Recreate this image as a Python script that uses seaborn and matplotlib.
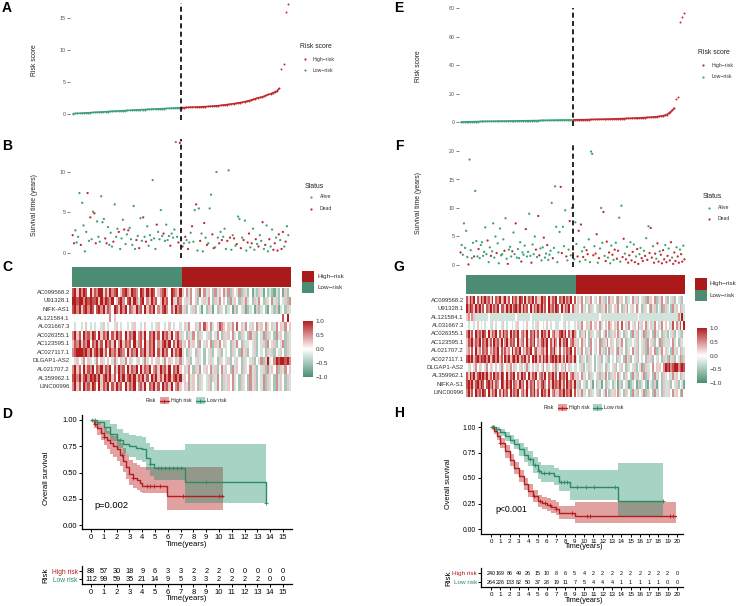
import numpy as np
import pandas as pd
import matplotlib
matplotlib.use("Agg")
import matplotlib.pyplot as plt
import seaborn as sns
from matplotlib.colors import LinearSegmentedColormap, ListedColormap
from matplotlib.patches import Rectangle

# ======================= DATA =======================
# ---- Panel A: training cohort sorted risk scores ----
a_low_scores = [0.05,0.08,0.10,0.12,0.14,0.16,0.18,0.20,0.22,0.24,
                0.26,0.28,0.30,0.32,0.34,0.36,0.38,0.40,0.42,0.44,
                0.46,0.48,0.50,0.52,0.54,0.56,0.58,0.60,0.62,0.63,
                0.65,0.67,0.69,0.70,0.72,0.74,0.75,0.77,0.79,0.80,
                0.82,0.84,0.85,0.87,0.89,0.90,0.92,0.94,0.96,0.98]
a_high_scores = [1.00,1.01,1.03,1.04,1.06,1.07,1.08,1.09,1.10,1.12,
                 1.14,1.16,1.18,1.20,1.22,1.25,1.28,1.31,1.35,1.39,
                 1.43,1.48,1.52,1.57,1.62,1.67,1.73,1.79,1.85,1.92,
                 2.00,2.08,2.18,2.28,2.40,2.52,2.58,2.65,2.78,2.92,
                 3.05,3.15,3.30,3.45,3.62,4.00]
a_high_tail = [7.0, 7.8, 15.9, 17.2]

# ---- Panel E: validation cohort sorted risk scores ----
e_low_scores = [0.10,0.14,0.18,0.22,0.26,0.30,0.33,0.36,0.39,0.42,
                0.45,0.48,0.51,0.54,0.57,0.60,0.62,0.64,0.66,0.68,
                0.70,0.72,0.74,0.76,0.78,0.80,0.82,0.84,0.86,0.88,
                0.90,0.92,0.94,0.96,0.98,1.00,1.02,1.04,1.06,1.08,
                1.10,1.12,1.14,1.17,1.20,1.23,1.26,1.29,1.32,1.35,
                1.38,1.40,1.42,1.44,1.46,1.48,1.50,1.53,1.56,1.60]
e_high_scores = [1.60,1.62,1.65,1.68,1.70,1.73,1.76,1.79,1.82,1.85,
                 1.88,1.91,1.94,1.97,2.00,2.04,2.08,2.12,2.16,2.20,
                 2.24,2.28,2.32,2.37,2.42,2.47,2.52,2.57,2.62,2.68,
                 2.74,2.80,2.86,2.93,3.00,3.07,3.15,3.23,3.31,3.40,
                 3.50,3.60,3.72,3.85,4.00,4.20,4.45,4.80,5.30,6.10,
                 7.20,8.50,9.80]
e_high_tail = [16.2, 17.3, 70.1, 73.5, 76.4]

# ---- Panel B: survival time (years) and status (A = Alive, D = Dead) ----
b_low_time = [2.2,1.2,2.8,1.3,2.0,7.4,1.0,6.2,3.4,0.2,
              2.6,7.4,1.5,4.4,1.7,5.1,4.9,1.2,3.9,2.0,
              1.4,7.0,3.8,4.2,1.8,1.2,3.2,1.0,2.5,0.8,
              1.4,6.0,2.0,3.0,2.6,0.5,1.8,4.1,2.9,1.1,
              2.3,2.8,3.1,1.7,1.0,5.8,0.5,1.6,2.1,0.6,
              4.3,1.5,4.4,2.0,1.4,3.3,0.9,2.2,1.6,9.0,
              1.8,0.5,3.5,2.6,1.7,5.3,2.1,2.4,1.5,3.5,
              1.6,2.1,0.9,2.4,1.9,2.9,13.7,2.0,1.3,13.6]
b_low_status = ("DDAAAADAAA" "ADADAADDAA" "AAAADDAAAA" "DAAADAAADA"
                "ADAAAAADAD" "AADADAAAAA" "AADAAAADAA" "AADAAAAADD")
b_high_time = [1.8,0.8,1.2,2.0,1.6,0.5,1.3,2.5,3.3,1.4,
               5.3,6.0,0.3,5.5,1.5,2.4,0.2,3.7,1.9,1.0,
               1.2,5.5,7.2,2.3,0.6,0.7,10.0,1.9,1.2,2.6,
               1.6,2.0,3.0,0.5,1.5,10.2,1.9,0.4,2.2,1.8,
               0.9,1.1,4.5,4.2,0.6,1.9,1.6,4.0,0.3,1.3,
               2.4,0.7,1.2,3.0,0.4,1.7,1.1,0.8,2.2,1.5,
               3.8,0.5,1.0,3.4,0.2,1.7,0.8,2.9,0.4,1.2,
               1.9,0.3,2.3,1.6,0.5,2.6,0.8,1.4,3.3,2.2]
b_high_status = ("ADADADAADA" "ADAADAADAD" "AAADDAAADA" "DAAADADAAD"
                 "ADAADADAAD" "DADAADADAA" "DADAADAADD" "ADDADDADAA")

# ---- Panel F ----
f_low_time = [2.2,3.5,1.8,7.3,3.0,6.0,1.4,0.1,18.5,2.6,
              1.2,3.9,1.5,13.0,4.2,1.5,2.8,1.2,3.5,4.0,
              1.6,2.3,6.6,1.9,4.3,0.5,3.1,1.6,2.4,7.3,
              1.3,5.0,2.1,3.8,0.3,6.4,1.7,1.9,4.5,2.5,
              8.2,1.1,0.2,2.7,3.2,1.5,2.4,5.7,1.9,7.3,
              1.3,2.8,1.2,4.0,0.6,2.2,1.8,3.4,6.3,1.5,
              2.3,9.0,1.6,0.4,3.6,1.9,5.0,2.7,1.4,8.6,
              1.7,2.9,0.8,3.1,4.8,1.3,2.0,3.5,0.9,1.8,
              2.5,10.9,1.2,3.0,13.8,6.7,0.5,2.2,5.8,13.7,
              2.1,6.7,3.3,9.6,1.5,0.8,2.7,7.7,1.7,10.0]
f_low_status = ("DAAAAAADAA" "AADAAADAAA" "AAAADAADAA" "AADAAAAAAD" "AADAAADAAD"
                "AAAADAAADA" "AAADAAADAD" "DAAADAADAA" "AADAAAAAAD" "DAAADAADAA")
f_high_time = [2.1,1.0,7.5,3.7,1.5,6.0,0.6,7.1,2.4,1.4,
               3.1,0.9,2.6,1.9,4.5,0.5,19.9,19.5,1.7,3.3,
               2.0,5.4,0.4,1.2,2.9,10.0,3.9,9.3,1.6,0.7,
               4.1,1.3,2.2,0.3,3.4,1.8,0.9,2.7,3.9,1.1,
               2.5,8.3,0.6,10.4,1.4,4.6,2.0,1.0,3.2,0.4,
               1.7,4.0,0.8,2.3,3.6,0.5,1.5,2.8,0.2,1.9,
               3.0,1.2,0.7,2.5,1.6,4.7,0.9,6.8,2.1,6.5,
               1.3,3.3,0.4,2.0,1.1,3.8,0.6,2.4,1.8,0.3,
               2.6,1.0,3.5,0.5,1.6,2.9,0.8,4.0,1.3,0.2,
               2.2,0.7,3.1,1.5,0.4,2.7,1.9,0.6,3.4,1.0]
f_high_status = ("DAAADDADAD" "AADDAAAADA" "DDADAAADAD" "DADAADADAD" "DAAADDADAD"
                 "DADDADADDA" "ADDADADADD" "DADDADDADD" "DDADDADDAD" "DDADDADDAD")

# ---- Panels C / G: heatmap expression (digit 0..8 -> -1..1) ----
c_genes = ["AC099568.2","U91328.1","NIFK-AS1","AL121584.1","AL031667.3","AC026355.1",
           "AC123595.1","AC027117.1","DLGAP1-AS2","AL021707.2","AL359962.1","LINC00996"]
c_rows = [
 "7858687485 7688375867 8457865876 4875868745 6785487658 5463645274 6354263546 3625436253 2413253142 3213241524",
 "8878868787 7858687684 5786478586 3784658674 5867485376 4353645243 5364253645 4263542536 3425364253 4635243526",
 "7868578687 4786857648 7586847658 6748576846 5786475867 3524352431 4253142534 2341524351 2341523421 4325134253",
 "4444444444 4444444645 4444444444 4444444444 4444444444 4444444444 4444444444 4444444444 4444444444 4444447484",
 "4344345434 3443543443 5434434354 4345443435 4434543443 4536445364 7546345765 4536474536 4354635463 4536453645",
 "6857486758 7485768475 8674857684 6758476857 4867584675 3425364253 4352436425 3546342534 2635243625 3426354253",
 "5768576847 6857486758 4685767485 6748576846 5786847586 3546354264 3546253645 3425364253 3435243526 4352436253",
 "6788878685 7868574867 5876485768 4768576847 5867485768 3425342534 2435243524 3425342635 2435243425 3524354253",
 "4354364534 3645345436 3453645343 5436345435 4364534536 3435243534 2435342534 3524354253 4352436258 3468788786",
 "6857485768 4768576847 5867485768 4857684675 8675847685 4536425364 3546352463 5426354253 4635243526 3546253645",
 "7868578687 8685786857 4868578685 7685748685 7586857868 3546354253 4352536425 3546342534 2635243625 3426354253",
 "6857486758 7485768475 8674857684 6758476857 4867584675 4536354253 4352436425 3546342534 2635243625 3426354253",
]
g_genes = ["AC099568.2","U91328.1","AL121584.1","AL031667.3","AC026355.1","AC123595.1",
           "AL021707.2","AC027117.1","DLGAP1-AS2","AL359962.1","NIFKA-S1","LINC00996"]
g_rows = [
 "7586847586 8675847685 6857486758 7485768475 5867485768 4768576847 4536425364 3546352463 5426354253 4635243526 3546253645 2435243524",
 "8687586857 4768576847 7586857868 5867485768 6857486758 7485768475 3546354253 4352536425 4536425364 3546342534 2635243625 3426354253",
 "5646533333 3343333333 3333333433 3333343333 3333333333 3343333333 3333333333 3334333333 3333333333 3333433333 3333333333 3333336383",
 "4344345434 3443543443 5434434354 4345443435 4434543443 3443543443 4536445364 5546345465 4536474536 4354635463 4536453645 4537463748",
 "6857486758 7485768475 8674857684 6758476857 4867584675 5786847586 3425364253 4352436425 3546342534 2635243625 3426354253 2435243524",
 "5768576847 6857486758 4685767485 6748576846 5786847586 4857684675 3546354264 3546253645 3425364253 3435243526 4352436253 3546342534",
 "5647485647 6746576847 5756485768 4657684675 5675847685 4746576847 4536425364 3546352463 5426354253 4635243526 3546253645 3426354253",
 "7868578687 8685786857 4868578685 7685748685 7586857868 6857486758 3425342534 2435243524 3425342635 2435243425 3524354253 2635243625",
 "4354364534 3645345436 3453645343 5436345435 4364534536 3453645343 3435243534 2435342534 3524354253 4352436253 3464535468 7867886787",
 "7586857868 6857486758 7485768475 8674857684 6758476857 4867584675 3546354253 4352536425 3546342534 2635243625 3426354253 4536354253",
 "7868578687 4786857648 7586847658 6748576846 5786475867 6857486758 3524352431 4253142534 2341524351 2341523421 4325134253 3524352431",
 "6857486758 7485768475 8674857684 6758476857 4867584675 5768576847 4536354253 4352436425 3546342534 2635243625 3426354253 3546354264",
]

# ---- Panel D: Kaplan-Meier (training) ----
d_high_t  = [0, 0.25, 0.5, 0.75, 1.0, 1.25, 1.5, 1.75, 2.0, 2.25, 2.5, 2.75, 3.0, 3.3, 3.6, 3.8, 4.0, 5.95, 10.3]
d_high_s  = [1.0, 0.96, 0.92, 0.88, 0.84, 0.81, 0.78, 0.75, 0.72, 0.67, 0.61, 0.55, 0.49, 0.45, 0.43, 0.40, 0.375, 0.276, 0.276]
d_high_up = [1.0, 1.0, 0.98, 0.95, 0.92, 0.90, 0.87, 0.85, 0.82, 0.78, 0.73, 0.68, 0.62, 0.59, 0.57, 0.555, 0.555, 0.555, 0.555]
d_high_lo = [1.0, 0.92, 0.86, 0.81, 0.76, 0.72, 0.68, 0.65, 0.61, 0.56, 0.50, 0.44, 0.38, 0.35, 0.33, 0.31, 0.30, 0.14, 0.14]
d_high_cens = [0.3, 1.0, 2.4, 3.3, 4.4, 4.6, 4.9, 5.4, 7.2, 10.0, 10.2]
d_low_t  = [0, 0.5, 1.0, 1.5, 2.0, 2.5, 3.0, 3.5, 4.0, 4.3, 4.6, 4.9, 7.35, 13.65, 13.7]
d_low_s  = [1.0, 0.98, 0.93, 0.87, 0.81, 0.77, 0.75, 0.73, 0.72, 0.64, 0.58, 0.54, 0.405, 0.21, 0.21]
d_low_up = [1.0, 1.0, 1.0, 0.96, 0.91, 0.88, 0.86, 0.85, 0.84, 0.78, 0.74, 0.71, 0.77, 0.92, 0.92]
d_low_lo = [1.0, 0.95, 0.87, 0.80, 0.73, 0.68, 0.65, 0.62, 0.60, 0.52, 0.47, 0.43, 0.21, 0.04, 0.04]
d_low_cens = [0.1, 0.3, 0.5, 2.3, 4.6, 5.2, 5.5, 5.8, 6.1, 6.4, 6.7, 7.0, 9.0, 13.66]
d_years = list(range(0, 16))
d_n_high = [88, 57, 30, 18, 9, 6, 3, 3, 2, 2, 2, 0, 0, 0, 0, 0]
d_n_low  = [112, 99, 59, 35, 21, 14, 9, 5, 3, 3, 2, 2, 2, 2, 0, 0]

# ---- Panel H: Kaplan-Meier (validation) ----
h_high_t  = [0, 0.3, 0.6, 1.0, 1.5, 2.0, 2.5, 3.0, 3.5, 4.0, 4.5, 5.0, 5.5, 6.0, 6.5, 7.0, 7.3, 9.0, 19.9]
h_high_s  = [1.0, 0.96, 0.91, 0.84, 0.76, 0.68, 0.60, 0.52, 0.44, 0.375, 0.32, 0.276, 0.255, 0.24, 0.22, 0.20, 0.16, 0.13, 0.13]
h_high_up = [1.0, 0.99, 0.95, 0.89, 0.82, 0.74, 0.66, 0.58, 0.50, 0.44, 0.38, 0.335, 0.31, 0.30, 0.28, 0.26, 0.23, 0.26, 0.26]
h_high_lo = [1.0, 0.93, 0.87, 0.79, 0.70, 0.62, 0.54, 0.46, 0.38, 0.31, 0.26, 0.22, 0.20, 0.18, 0.16, 0.14, 0.10, 0.06, 0.06]
h_high_cens = [0.2, 1.0, 4.6, 5.3, 5.8, 6.3, 7.0, 8.7, 10.3, 10.6, 19.2, 19.6]
h_low_t  = [0, 0.5, 1.0, 1.5, 2.0, 2.5, 3.0, 3.5, 4.0, 4.5, 5.0, 5.4, 6.8, 7.3, 8.5, 13.63, 18.5]
h_low_s  = [1.0, 0.98, 0.95, 0.91, 0.875, 0.83, 0.78, 0.73, 0.69, 0.63, 0.57, 0.546, 0.52, 0.46, 0.41, 0.27, 0.27]
h_low_up = [1.0, 1.0, 0.98, 0.95, 0.92, 0.88, 0.84, 0.80, 0.76, 0.71, 0.66, 0.63, 0.60, 0.58, 0.58, 0.645, 0.645]
h_low_lo = [1.0, 0.96, 0.91, 0.86, 0.83, 0.78, 0.72, 0.66, 0.62, 0.55, 0.49, 0.46, 0.43, 0.37, 0.28, 0.12, 0.12]
h_low_cens = [0.1, 0.3, 0.5, 4.2, 4.7, 5.2, 5.7, 6.2, 7.5, 7.8, 8.2, 9.2, 10.2, 11.1, 13.3, 18.5]
h_years = list(range(0, 21))
h_n_high = [240,169,86,49,26,15,10,8,6,5,4,2,2,2,2,2,2,2,2,2,0]
h_n_low  = [264,226,133,82,50,37,28,19,11,7,5,4,4,4,1,1,1,1,1,0,0]

# ======================= STYLE =======================
RED_PT = "#C0292B"
GREEN_PT = "#3E9E78"
RED_LN = "#B41C1C"
GREEN_LN = "#2E8A62"
RED_FILL = "#B00000"
GREEN_FILL = "#108A64"
ANN_RED = "#AB1A1A"
ANN_GREEN = "#4B8C73"
hm_cmap = LinearSegmentedColormap.from_list("gwr", ["#4A8F72", "#FFFFFF", "#B21E1E"])

sns.set_theme(style="white")
plt.rcParams['font.family'] = ['Liberation Sans', 'DejaVu Sans']

W, H = 739, 606
fig = plt.figure(figsize=(W / 100, H / 100), dpi=100)


def add_ax(x0, y0, x1, y1, xref=None, yref=None):
    ax = fig.add_axes([x0 / W, 1 - y1 / H, (x1 - x0) / W, (y1 - y0) / H])
    if xref:
        d0, p0, d1, p1 = xref
        k = (d1 - d0) / (p1 - p0)
        ax.set_xlim(d0 + (x0 - p0) * k, d0 + (x1 - p0) * k)
    if yref:
        d0, p0, d1, p1 = yref
        k = (d1 - d0) / (p1 - p0)
        ax.set_ylim(d0 + (y1 - p0) * k, d0 + (y0 - p0) * k)
    ax.set_facecolor("none")
    return ax


def style_plain(ax, yticks):
    ax.set_yticks(yticks)
    ax.set_yticklabels([str(v) for v in yticks])
    ax.set_xticks([])
    for s in ax.spines.values():
        s.set_visible(False)
    ax.tick_params(axis='y', left=True, length=2, width=0.5, color='#4D4D4D',
                   labelsize=3.8, labelcolor='#4D4D4D', pad=1)
    ax.set_xlabel("")
    ax.set_ylabel("")


def rank_positions(n_low, n_high):
    pl = (np.arange(n_low) + 0.5) / n_low * 0.5
    ph = 0.5 + (np.arange(n_high) + 0.5) / n_high * 0.5
    return pl, ph


def risk_panel(box, xpx, yref, yticks, low, high, tail):
    ax = add_ax(*box, xref=(0, xpx[0], 1, xpx[1]), yref=yref)
    pl, ph = rank_positions(len(low), len(high) + len(tail))
    dl = pd.DataFrame({"x": pl, "y": low})
    dh = pd.DataFrame({"x": ph[:len(high)], "y": high})
    dt = pd.DataFrame({"x": ph[len(high):], "y": tail})
    sns.lineplot(data=dl, x="x", y="y", color=GREEN_PT, lw=1.1, ax=ax)
    sns.lineplot(data=dh, x="x", y="y", color=RED_PT, lw=1.1, ax=ax)
    for d, c in ((dl, GREEN_PT), (dh, RED_PT), (dt, RED_PT)):
        sns.scatterplot(data=d, x="x", y="y", color=c, s=2.0, linewidth=0, ax=ax)
    ax.axvline(0.5, color="black", ls=(0, (3, 2)), lw=1.2)
    style_plain(ax, yticks)
    return ax


def surv_panel(box, xpx, yref, yticks, tl, sl, th, sh):
    ax = add_ax(*box, xref=(0, xpx[0], 1, xpx[1]), yref=yref)
    pl, ph = rank_positions(len(tl), len(th))
    df = pd.DataFrame({
        "x": np.concatenate([pl, ph]),
        "y": list(tl) + list(th),
        "status": ["Alive" if c == "A" else "Dead" for c in (sl + sh)],
    })
    sns.scatterplot(data=df, x="x", y="y", hue="status",
                    palette={"Alive": GREEN_PT, "Dead": RED_PT},
                    s=2.6, linewidth=0, legend=False, ax=ax, clip_on=False)
    ax.axvline(0.5, color="black", ls=(0, (3, 2)), lw=1.2)
    style_plain(ax, yticks)
    return ax


def heat_panel(hbox, abox, cbox, genes, rows, n_low_cols):
    clean = [r.replace(" ", "") for r in rows]
    ncol = min(len(r) for r in clean)
    mat = np.array([[(int(c) - 4) / 4 for c in r[:ncol]] for r in clean])
    df = pd.DataFrame(mat, index=genes)
    axa = add_ax(*abox)
    grp = np.array([[0] * n_low_cols + [1] * (ncol - n_low_cols)])
    sns.heatmap(grp, cmap=ListedColormap([ANN_GREEN, ANN_RED]), cbar=False,
                xticklabels=False, yticklabels=False, ax=axa)
    axh = add_ax(*hbox)
    cax = add_ax(*cbox)
    sns.heatmap(df, cmap=hm_cmap, vmin=-1, vmax=1, xticklabels=False,
                yticklabels=True, ax=axh, cbar_ax=cax)
    axh.tick_params(axis='y', left=False, length=0, labelsize=4.3,
                    labelcolor='#333333', pad=1.5)
    for lab in axh.get_yticklabels():
        lab.set_rotation(0)
    cax.tick_params(length=0, labelsize=4.5, labelcolor='#333333', pad=2)
    cax.set_yticks([-1, -0.5, 0, 0.5, 1])
    cax.set_yticklabels(["\u22121.0", "\u22120.5", "0.0", "0.5", "1.0"])
    for s in cax.spines.values():
        s.set_visible(False)
    return axh


def step_at(t, s, c):
    idx = np.searchsorted(np.asarray(t), np.asarray(c), side="right") - 1
    return np.asarray(s)[idx]


def km_panel(box, xref, yref, xticks, curves, tick_fs_y, tick_fs_x):
    ax = add_ax(*box, xref=xref, yref=yref)
    for t, s, lo, up, cens, ln, fl in curves:
        ax.fill_between(t, lo, up, step="post", color=fl, alpha=0.37, lw=0)
    for t, s, lo, up, cens, ln, fl in curves:
        df = pd.DataFrame({"t": t, "s": s})
        sns.lineplot(data=df, x="t", y="s", drawstyle="steps-post", color=ln,
                     lw=1.0, estimator=None, sort=False, ax=ax)
        dc = pd.DataFrame({"t": cens, "s": step_at(t, s, cens)})
        sns.scatterplot(data=dc, x="t", y="s", marker="+", s=9, color=ln,
                        linewidth=0.6, ax=ax)
    for k in ("top", "right"):
        ax.spines[k].set_visible(False)
    for k in ("left", "bottom"):
        ax.spines[k].set_color("black")
        ax.spines[k].set_linewidth(0.9)
    ax.set_xticks(xticks)
    ax.set_xticklabels([str(v) for v in xticks])
    ax.set_yticks([0, 0.25, 0.5, 0.75, 1.0])
    ax.set_yticklabels(["0.00", "0.25", "0.50", "0.75", "1.00"])
    ax.tick_params(axis='y', left=True, length=2.5, width=0.7, color='black',
                   labelsize=tick_fs_y, labelcolor='black', pad=1)
    ax.tick_params(axis='x', bottom=True, length=2.5, width=0.7, color='black',
                   labelsize=tick_fs_x, labelcolor='black', pad=1)
    ax.set_xlabel("")
    ax.set_ylabel("")
    return ax


def table_panel(box, xref, yrow_low, yrow_high, xticks, n_high, n_low, num_fs, lab_fs, tick_fs):
    ax = add_ax(*box, xref=xref, yref=(0, yrow_low, 1, yrow_high))
    for i, t in enumerate(xticks):
        ax.text(t, 1, str(n_high[i]), ha="center", va="center", fontsize=num_fs, color="black")
        ax.text(t, 0, str(n_low[i]), ha="center", va="center", fontsize=num_fs, color="black")
    for k in ("top", "right"):
        ax.spines[k].set_visible(False)
    for k in ("left", "bottom"):
        ax.spines[k].set_color("black")
        ax.spines[k].set_linewidth(0.9)
    ax.set_xticks(xticks)
    ax.set_xticklabels([str(v) for v in xticks])
    ax.set_yticks([0, 1])
    ax.set_yticklabels(["Low risk", "High risk"])
    ax.get_yticklabels()[0].set_color(GREEN_LN)
    ax.get_yticklabels()[1].set_color(RED_LN)
    ax.tick_params(axis='y', left=True, length=2, width=0.7, color='black',
                   labelsize=lab_fs, pad=1)
    ax.tick_params(axis='x', bottom=True, length=2.5, width=0.7, color='black',
                   labelsize=tick_fs, labelcolor='black', pad=1)
    return ax


# ======================= PANELS =======================
# A / E risk score
risk_panel((70, 3, 291, 120), (72, 289), (0, 114, 15, 18), [0, 5, 10, 15],
           a_low_scores, a_high_scores, a_high_tail)
risk_panel((459, 8, 686, 126), (460, 685), (0, 122, 80, 4.3), [0, 20, 40, 60, 80],
           e_low_scores, e_high_scores, e_high_tail)

# B / F survival status
surv_panel((70, 139, 291, 258), (72, 289), (0, 253, 10, 172), [0, 5, 10],
           b_low_time, b_low_status, b_high_time, b_high_status)
surv_panel((459, 145, 686, 267), (460, 685), (0, 265, 20, 151), [0, 5, 10, 15, 20],
           f_low_time, f_low_status, f_high_time, f_high_status)

# C / G heatmaps
heat_panel((72, 288, 291, 391), (72, 267, 291, 287), (303, 321, 313, 377), c_genes, c_rows, 50)
heat_panel((466, 296, 685, 397), (466, 275, 685, 294), (697, 328, 707, 383), g_genes, g_rows, 60)

# D / H Kaplan-Meier
km_panel((82, 415, 292, 529), (0, 91, 15, 283), (0, 525, 1, 420), d_years,
         [(d_high_t, d_high_s, d_high_lo, d_high_up, d_high_cens, RED_LN, RED_FILL),
          (d_low_t, d_low_s, d_low_lo, d_low_up, d_low_cens, GREEN_LN, GREEN_FILL)],
         5.5, 5.5)
km_panel((481, 422, 683, 534), (0, 491, 20, 677), (0, 529, 1, 427), h_years,
         [(h_high_t, h_high_s, h_high_lo, h_high_up, h_high_cens, RED_LN, RED_FILL),
          (h_low_t, h_low_s, h_low_lo, h_low_up, h_low_cens, GREEN_LN, GREEN_FILL)],
         4.9, 4.5)

table_panel((82, 566, 292, 584), (0, 91, 15, 283), 579.3, 571.3, d_years,
            d_n_high, d_n_low, 5.3, 4.8, 5.5)
table_panel((481, 568, 683, 587), (0, 491, 20, 677), 582.3, 573.3, h_years,
            h_n_high, h_n_low, 3.9, 4.6, 4.5)

# ======================= OVERLAY TEXT / LEGENDS =======================
ov = fig.add_axes([0, 0, 1, 1])
ov.set_xlim(0, W)
ov.set_ylim(H, 0)
ov.set_axis_off()


def T(x, y, s, **kw):
    kw.setdefault("va", "center")
    kw.setdefault("ha", "left")
    ov.text(x, y, s, **kw)


for lab, x, y in [("A", 7, 7.5), ("B", 7, 146), ("C", 7, 267), ("D", 7, 414),
                  ("E", 399, 7.5), ("F", 399, 146), ("G", 399, 267), ("H", 399, 413)]:
    T(x, y, lab, ha="center", fontsize=10, fontweight="bold", color="black")

# y labels of A,B,E,F
T(34, 60, "Risk score", ha="center", rotation=90, fontsize=4.9, color="#222222")
T(34, 205, "Survival time (years)", ha="center", rotation=90, fontsize=4.9, color="#222222")
T(418, 66, "Risk score", ha="center", rotation=90, fontsize=4.9, color="#222222")
T(418, 203, "Survival time (years)", ha="center", rotation=90, fontsize=4.9, color="#222222")

# legends A / E
for (tx, ty, dx, tx2, y1, y2) in [(300, 47, 305, 313, 59, 70), (698, 52, 703, 712, 65, 77)]:
    T(tx, ty, "Risk score", fontsize=4.9, color="#222222")
    ov.scatter([dx], [y1], s=2.5, color=RED_PT, lw=0)
    ov.scatter([dx], [y2], s=2.5, color=GREEN_PT, lw=0)
    T(tx2, y1, "High\u2212risk", fontsize=3.7, color="#333333")
    T(tx2, y2, "Low\u2212risk", fontsize=3.7, color="#333333")

# legends B / F
for (tx, ty, dx, tx2, y1, y2) in [(305, 186, 311, 320, 197, 208.5), (703, 196, 709, 718, 207.5, 219)]:
    T(tx, ty, "Status", fontsize=4.9, color="#222222")
    ov.scatter([dx], [y1], s=2.5, color=GREEN_PT, lw=0)
    ov.scatter([dx], [y2], s=2.5, color=RED_PT, lw=0)
    T(tx2, y1, "Alive", fontsize=3.7, color="#333333")
    T(tx2, y2, "Dead", fontsize=3.7, color="#333333")

# heatmap group legends
for (bx0, bx1, ry0, ry1, gy1, tx) in [(302, 314, 271, 282, 293, 317), (695, 707, 278, 290, 301, 710)]:
    ov.add_patch(Rectangle((bx0, ry0), bx1 - bx0, ry1 - ry0, color=ANN_RED, lw=0))
    ov.add_patch(Rectangle((bx0, ry1), bx1 - bx0, gy1 - ry1, color=ANN_GREEN, lw=0))
    T(tx, (ry0 + ry1) / 2, "High\u2212risk", fontsize=4.6, color="#333333")
    T(tx, (ry1 + gy1) / 2, "Low\u2212risk", fontsize=4.6, color="#333333")

# KM legends
for (rx, y, r0, hx, g0, lx) in [(146, 400.5, 160, 171, 196, 207), (544, 407.7, 558, 569, 593, 604)]:
    T(rx, y, "Risk", fontsize=3.8, color="#222222")
    for x0, ln, fl, lab, tx in ((r0, RED_LN, RED_FILL, "High risk", hx), (g0, GREEN_LN, GREEN_FILL, "Low risk", lx)):
        ov.add_patch(Rectangle((x0, y - 3.5), 8.5, 7, color=fl, alpha=0.37, lw=0))
        ov.plot([x0, x0 + 8.5], [y, y], color=ln, lw=1.0)
        ov.plot([x0 + 4.25], [y], marker="+", ms=3, mew=0.6, color=ln)
        T(tx, y, lab, fontsize=3.8, color="#222222")

# KM axis labels and p-values
T(47, 478, "Overall survival", ha="center", rotation=90, fontsize=5.6, color="black")
T(187, 544, "Time(years)", ha="center", fontsize=5.6, color="black")
T(94, 505, "p=0.002", fontsize=6.7, color="black")
T(448, 484, "Overall survival", ha="center", rotation=90, fontsize=5.3, color="black")
T(584, 546.5, "Time(years)", ha="center", fontsize=5.2, color="black")
T(495, 509, "p<0.001", fontsize=6.3, color="black")

# risk table labels
T(46, 575, "Risk", ha="center", rotation=90, fontsize=5.8, color="black")
T(187, 598.5, "Time(years)", ha="center", fontsize=5.6, color="black")
T(449, 578, "Risk", ha="center", rotation=90, fontsize=5.8, color="black")
T(584, 600, "Time(years)", ha="center", fontsize=5.2, color="black")

fig.savefig("out.png", dpi=100)
